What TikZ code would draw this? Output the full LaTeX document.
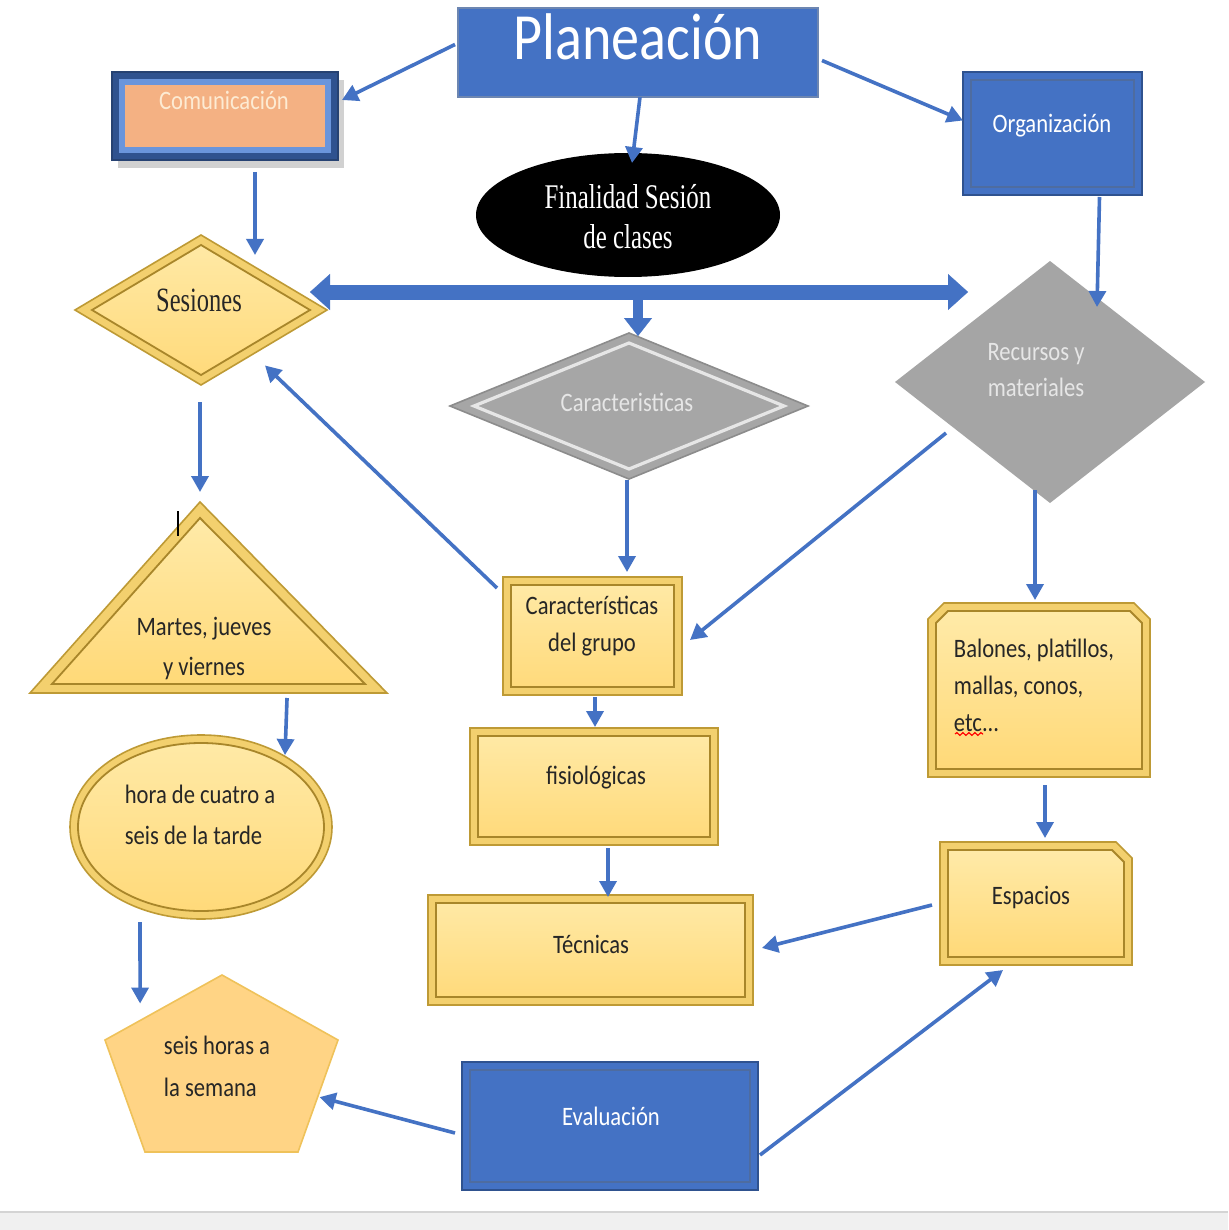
\documentclass[tikz,border=0pt]{standalone}
\usepackage{fontspec}
\newfontfamily\carl{Carlito}[FakeStretch=0.85]
\newfontfamily\serifn{Liberation Serif}[FakeStretch=0.72]
\usetikzlibrary{shapes.geometric,arrows.meta,calc,decorations.pathmorphing}
\definecolor{bluem}{HTML}{4472C4}
\definecolor{bluedk}{HTML}{2F528F}
\definecolor{bluelt}{HTML}{6A95DC}
\definecolor{orng}{HTML}{F4B183}
\definecolor{orngtx}{HTML}{FDEBD3}
\definecolor{gout}{HTML}{F3D06E}
\definecolor{gedge}{HTML}{BE9A35}
\definecolor{gin1}{HTML}{FFEAA8}
\definecolor{gin2}{HTML}{FFD978}
\definecolor{gline}{HTML}{A8862A}
\definecolor{grayd}{HTML}{A6A6A6}
\definecolor{grayl}{HTML}{E6E6E6}
\definecolor{grayr}{HTML}{A5A5A5}
\definecolor{pentf}{HTML}{FFD485}
\definecolor{pente}{HTML}{EFC25A}
\definecolor{txtd}{HTML}{262626}
\definecolor{bandgray}{HTML}{F0F0F0}
\definecolor{bandline}{HTML}{D4D4D4}
\begin{document}
\begin{tikzpicture}[x=0.5pt,y=-0.5pt,
  shp/.style={inner sep=0pt, outer sep=0pt},
  txt/.style={inner sep=0pt, align=center, font=\carl\fontsize{13.3}{18.5}\selectfont, text=txtd},
  txw/.style={txt, text=white},
  goldbox/.style={shp, rectangle, draw=gedge, line width=0.8pt, fill=gout,
    path picture={\draw[gline, line width=0.9pt, top color=gin1, bottom color=gin2]
      ([shift={(4pt,-4pt)}]path picture bounding box.north west) rectangle
      ([shift={(-4pt,4pt)}]path picture bounding box.south east);}},
  goldout/.style={draw=gedge, line width=0.8pt, fill=gout},
  goldin/.style={draw=gline, line width=0.9pt, top color=gin1, bottom color=gin2},
  bluebox/.style={shp, rectangle, draw=bluedk, line width=1pt, fill=bluem,
    path picture={\draw[bluedk!85, line width=0.9pt]
      ([shift={(4pt,-4pt)}]path picture bounding box.north west) rectangle
      ([shift={(-4pt,4pt)}]path picture bounding box.south east);}},
  arr/.style={draw=bluem, line width=1.8pt, arrows={-Triangle[length=8pt,width=8.5pt]}},
  bigarr/.style={draw=bluem, line width=7.5pt, arrows={Triangle[length=10pt,width=18pt,line width=0.1pt]-Triangle[length=10pt,width=18pt,line width=0.1pt]}},
  midarr/.style={draw=bluem, line width=5pt, arrows={-Triangle[length=9pt,width=14pt,line width=0.1pt]}}
]
\useasboundingbox (0,0) rectangle (1228,1230);
\fill[white] (0,0) rectangle (1228,1230);
\fill[bandgray] (0,1212) rectangle (1228,1230);
\draw[bandline, line width=0.8pt] (0,1212) -- (1228,1212);

% ---- top level
\node[shp, rectangle, fill=bluem, draw=bluedk!70, line width=0.6pt, minimum width=180pt, minimum height=44.5pt] (plan) at (638,52.5) {};
\node[txw, font=\carl\fontsize{33}{40}\selectfont] (planT) at (638,37) {Planeación};

\fill[black!18] (118,80) rectangle (344,168);
\node[shp, rectangle, fill=bluedk, draw=bluedk!80!black, line width=0.8pt, minimum width=113pt, minimum height=44pt,
  path picture={\fill[bluelt] ([shift={(3.5pt,-3.5pt)}]path picture bounding box.north west) rectangle ([shift={(-3.5pt,3.5pt)}]path picture bounding box.south east);
  \fill[orng] ([shift={(6.5pt,-6.5pt)}]path picture bounding box.north west) rectangle ([shift={(-6.5pt,6.5pt)}]path picture bounding box.south east);}] (comm) at (225,116) {};
\node[txt, text=orngtx] (commT) at (224,100) {Comunicación};

\node[bluebox, minimum width=89.5pt, minimum height=61.5pt] (org) at (1052.5,133.5) {};
\node[txw] (orgT) at (1052,126) {Organización};

\node[shp, ellipse, fill=black, minimum width=152pt, minimum height=62pt] (fin) at (628,215) {};
\node[inner sep=0pt, align=center, text=white, font=\serifn\fontsize{17.3}{20}\selectfont] (finT) at (628,217) {Finalidad Sesión\\de clases};

% ---- diamonds
\node[shp, diamond, draw=gedge, line width=0.8pt, fill=gout, minimum width=126pt, minimum height=75pt,
  path picture={\draw[gline, line width=0.9pt, top color=gin1, bottom color=gin2]
   ([yshift=-5pt]path picture bounding box.north) -- ([xshift=-8.5pt]path picture bounding box.east) --
   ([yshift=5pt]path picture bounding box.south) -- ([xshift=8.5pt]path picture bounding box.west) -- cycle;}] (ses) at (201,310) {};
\node[inner sep=0pt, text=txtd, font=\serifn\fontsize{17}{20}\selectfont] (sesT) at (199,300) {Sesiones};

\node[shp, diamond, draw=black!45, line width=0.8pt, fill=grayd, minimum width=179pt, minimum height=73pt,
  path picture={\draw[grayl, line width=1.6pt]
   ([yshift=-5pt]path picture bounding box.north) -- ([xshift=-12pt]path picture bounding box.east) --
   ([yshift=5pt]path picture bounding box.south) -- ([xshift=12pt]path picture bounding box.west) -- cycle;}] (car) at (629,406) {};
\node[txt, text=grayl] (carT) at (627,402) {Caracteristicas};

\node[shp, diamond, fill=grayr, minimum width=155pt, minimum height=121pt] (rec) at (1050,382) {};
\node[txt, text=grayl, font=\carl\fontsize{13.3}{18}\selectfont] (recT) at (1036,370) {Recursos y\\materiales};

% ---- left column
\coordinate (triT) at (200,502);
\coordinate (triL) at (30,693);
\coordinate (triR) at (387,693);
\filldraw[goldout] (triL) -- (triT) -- (triR) -- cycle;
\draw[goldin] (52,684) -- (200,518) -- (365,684) -- cycle;
\node[txt] (triX) at (204,648) {Martes, jueves\\[1.5pt]y viernes};
\draw[black, line width=0.7pt] (178,511) -- (178,536);

\node[shp, ellipse, draw=gedge, line width=0.8pt, fill=gout, minimum width=131pt, minimum height=92pt,
  path picture={\draw[gline, line width=0.9pt, top color=gin1, bottom color=gin2] (path picture bounding box.center) ellipse [x radius=61.5pt, y radius=42pt];}] (hora) at (201,827) {};
\node[txt, align=left] (horaT) at (200,815) {hora de cuatro a\\[2pt]seis de la tarde};

\coordinate (pT) at (222,975);
\coordinate (pR) at (338,1040);
\coordinate (pBR) at (298,1152);
\coordinate (pBL) at (145,1152);
\coordinate (pL) at (105,1040);
\filldraw[fill=pentf, draw=pente, line width=0.8pt] (pT) -- (pR) -- (pBR) -- (pBL) -- (pL) -- cycle;
\node[txt, align=left] (pentT) at (217,1066) {seis horas a\\[2.5pt]la semana};

% ---- middle column
\node[goldbox, minimum width=89.5pt, minimum height=59pt] (cdg) at (592.5,636) {};
\node[txt] (cdgT) at (592,626) {Características\\del grupo};
\node[goldbox, minimum width=124pt, minimum height=58.5pt] (fis) at (594,786.5) {};
\node[txt] (fisT) at (596,778) {fisiológicas};
\node[goldbox, minimum width=162.5pt, minimum height=55pt] (tec) at (590.5,950) {};
\node[txt] (tecT) at (591,944) {Técnicas};
\node[bluebox, minimum width=148pt, minimum height=64pt] (eva) at (610,1126) {};
\node[txw] (evaT) at (611,1116) {Evaluación};

% ---- right column (snipped boxes)
\node[shp, rectangle, minimum width=111pt, minimum height=87pt] (bal) at (1039,690) {};
\filldraw[goldout] ($(bal.north west)+(0,16)$) -- ($(bal.north west)+(16,0)$) -- ($(bal.north east)+(-16,0)$) -- ($(bal.north east)+(0,16)$) -- (bal.south east) -- (bal.south west) -- cycle;
\draw[goldin] ($(bal.north west)+(8,20)$) -- ($(bal.north west)+(20,8)$) -- ($(bal.north east)+(-20,8)$) -- ($(bal.north east)+(-8,20)$) -- ($(bal.south east)+(-8,-8)$) -- ($(bal.south west)+(8,-8)$) -- cycle;
\node[txt, align=left] (balT) at (1034,685) {Balones, platillos,\\mallas, conos,\\etc...};
\draw[red, line width=0.6pt, decorate, decoration={snake, amplitude=0.7pt, segment length=3pt}] (955,734) -- (983,734);

\node[shp, rectangle, minimum width=96pt, minimum height=61.5pt] (esp) at (1036,903.5) {};
\filldraw[goldout] (esp.north west) -- ($(esp.north east)+(-16,0)$) -- ($(esp.north east)+(0,16)$) -- (esp.south east) -- (esp.south west) -- cycle;
\draw[goldin] ($(esp.north west)+(8,8)$) -- ($(esp.north east)+(-20,8)$) -- ($(esp.north east)+(-8,20)$) -- ($(esp.south east)+(-8,-8)$) -- ($(esp.south west)+(8,-8)$) -- cycle;
\node[txt] (espT) at (1031,897) {Espacios};

% ---- connectors
\draw[arr] ($(plan.west)+(-3,-8)$) -- ($(comm.east)+(4,-16)$);
\draw[arr] ($(plan.east)+(4,8)$) -- ($(org.west)+(0,-13)$);
\draw[arr] ($(plan.south)+(2,0)$) -- ($(fin.north)+(4,10)$);
\draw[arr] ($(comm.south)+(30,12)$) -- ($(ses.north)+(54,20)$);
\draw[arr] ($(org.south)+(47,2)$) -- ($(rec.north)+(47,46)$);
\draw[bigarr] ($(ses.east)+(-17,-18)$) -- ($(rec.west)+(73,-90)$);
\coordinate (jn) at (638,298);
\draw[midarr] (jn) -- ($(car.north)+(9,3)$);
\draw[arr] ($(ses.south)+(-1,17)$) -- ($(triT)+(0,-10)$);
\draw[arr] ($(cdg.north west)+(-6,11)$) -- ($(ses.south)!0.5!(ses.east)+(1,18)$);
\draw[arr] ($(car.south)+(-2,1)$) -- ($(cdg.north)+(34.5,-5)$);
\draw[arr] ($(rec.south)!0.5!(rec.west)+(-26.5,-9.5)$) -- ($(cdg.east)+(8,4)$);
\draw[arr] ($(rec.south)+(-15,-13)$) -- ($(bal.north)+(-4,-3)$);
\draw[arr] ($(triL)!0.72!(triR)+(0,5)$) -- ($(hora.north)+(84,20)$);
\draw[arr] ($(hora.south)+(-61,3)$) -- ($(pT)!0.7!(pL)+(0,-17)$);
\draw[arr] ($(cdg.south)+(2.5,2)$) -- ($(fis.north)+(1,-1)$);
\draw[arr] ($(fis.south)+(14,3)$) -- ($(tec.north)+(17.5,2)$);
\draw[arr] ($(bal.south)+(6,8)$) -- ($(esp.north)+(9,-4)$);
\draw[arr] ($(esp.west)+(-8,1.5)$) -- ($(tec.east)+(9,-2)$);
\draw[arr] ($(eva.west)+(-7,7)$) -- ($(pR)!0.51!(pBR)+(2,0)$);
\draw[arr] ($(eva.east)+(2,29)$) -- ($(esp.south)+(-33,5)$);
\end{tikzpicture}
\end{document}
